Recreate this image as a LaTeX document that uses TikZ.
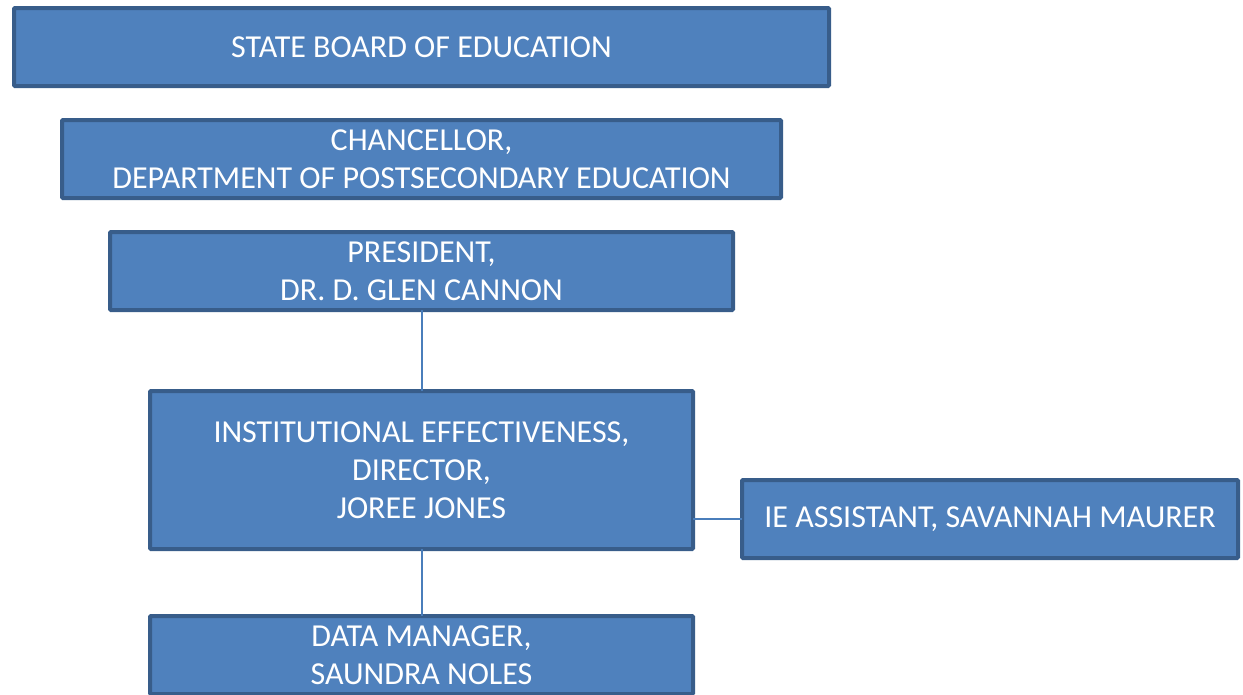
\documentclass[tikz,border=0pt]{standalone}
\usepackage{fontspec}
\setmainfont{Carlito}
\usetikzlibrary{positioning}

\definecolor{boxfill}{HTML}{4F81BD}
\definecolor{boxline}{HTML}{385D8A}
\definecolor{linkline}{HTML}{4A7EBB}

\begin{document}
\begin{tikzpicture}[
            x = 1pt, y = -1pt, % pixel like units, y going down
            link/.style = {draw = linkline, line width = 2pt}
        ]

        \tikzstyle{orgbox}=[
            draw = boxline,
            fill = boxfill,
            line width = 4pt,
            rounded corners = 1pt,
            text = white,
            align = center,
            inner sep = 0pt,
            outer sep = 0pt,
            minimum height = 78pt,
            font = \fontsize{32}{38}\selectfont
        ]

        \useasboundingbox (0,0) rectangle (1243,694);

        \node[orgbox, minimum width = 815pt] (board) at (421.5,47) {STATE BOARD OF EDUCATION};
        \node[orgbox, minimum width = 719pt] (chancellor) at (421.5,159) {CHANCELLOR,\\DEPARTMENT OF POSTSECONDARY EDUCATION};
        \node[orgbox, minimum width = 623pt] (president) at (421.5,271) {PRESIDENT,\\DR. D. GLEN CANNON};
        \node[orgbox, minimum width = 543pt, minimum height = 158pt] (director) at (421.5,470) {INSTITUTIONAL EFFECTIVENESS,\\DIRECTOR,\\JOREE JONES};
        \node[orgbox, minimum width = 496pt] (assistant) at (990,519) {IE ASSISTANT, SAVANNAH MAURER};
        \node[orgbox, minimum width = 543pt] (manager) at (421.5,655) {DATA MANAGER,\\SAUNDRA NOLES};

        \path[link] (president) -- (director);
        \path[link] (director) -- (manager);
        \path[link] (director.east |- assistant) -- (assistant.west);
    \end{tikzpicture}
\end{document}
